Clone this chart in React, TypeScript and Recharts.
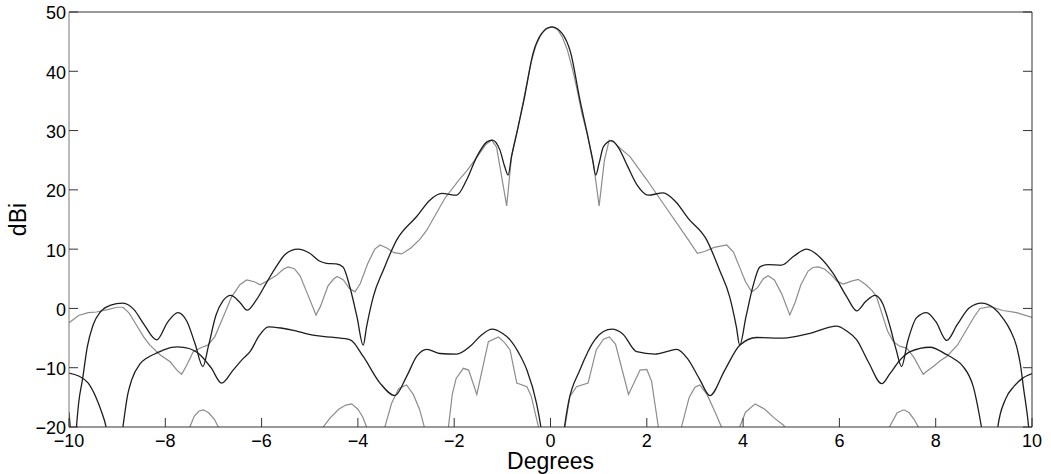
import { Line, LineChart, XAxis, YAxis } from "recharts"

// axis ticks
const xTicks = [-10, -8, -6, -4, -2, 0, 2, 4, 6, 8, 10]
const yTicks = [-20, -10, 0, 10, 20, 30, 40, 50]

// co-polar pattern, black  [degrees, dBi]
const copolBlack: [number, number][] = [
  [-10, -17.5], [-9.96, -22], [-9.91, -32], [-9.86, -22], [-9.8, -16], [-9.72, -12], [-9.62, -6.5],
  [-9.5, -2.8], [-9.35, -0.6], [-9.15, 0.5], [-8.88, 0.9], [-8.65, -0.2], [-8.45, -2.6], [-8.18, -5.3],
  [-7.95, -2.3], [-7.74, -0.7], [-7.55, -2.2], [-7.38, -6], [-7.22, -9.8], [-7.1, -6.2], [-6.95, -1.2],
  [-6.8, 1.3], [-6.64, 2.2], [-6.45, 1.0], [-6.3, -0.3], [-6.12, 1.3], [-5.9, 4.3], [-5.7, 7], [-5.5, 9.2],
  [-5.25, 10], [-5.0, 9.3], [-4.8, 8.0], [-4.65, 7.6], [-4.45, 7.5], [-4.31, 7.0], [-4.16, 3.4],
  [-4.02, -1.4], [-3.89, -6.2], [-3.82, -3.1], [-3.68, 2.0], [-3.47, 6.5], [-3.19, 11.6], [-2.78, 15.5],
  [-2.5, 18.3], [-2.26, 19.4], [-1.95, 19.1], [-1.74, 21.7], [-1.53, 25.6], [-1.32, 28.1], [-1.21, 28.4],
  [-1.05, 26.7], [-0.95, 23.9], [-0.88, 22.5], [-0.81, 25.6], [-0.7, 29.6], [-0.55, 35.2], [-0.36, 43.1],
  [-0.18, 46.4], [0.03, 47.5], [0.24, 46.4], [0.42, 43.1], [0.61, 35.2], [0.76, 29.6], [0.87, 25.3],
  [0.94, 22.5], [1.01, 24.5], [1.1, 27.3], [1.27, 28.3], [1.42, 27], [1.6, 24], [1.8, 20.8], [2.03, 19.1],
  [2.34, 19.5], [2.6, 18], [2.86, 15.2], [3.24, 11.6], [3.51, 6.5], [3.72, 2.0], [3.86, -3.1], [3.93, -6.2],
  [4.06, -1.4], [4.2, 3.6], [4.35, 7.0], [4.52, 7.4], [4.8, 7.3], [5.05, 8.8], [5.32, 10], [5.6, 8.6],
  [5.87, 5.9], [6.15, 2.0], [6.36, -0.4], [6.55, 1.2], [6.74, 2.2], [6.9, 0.8], [7.05, -3], [7.18, -7],
  [7.29, -9.8], [7.42, -5.5], [7.6, -1.6], [7.81, -0.7], [8.0, -2.2], [8.23, -5.4], [8.45, -2.7],
  [8.7, 0.1], [8.95, 0.9], [9.2, 0.1], [9.4, -1.7], [9.55, -3.7], [9.68, -6.4], [9.76, -9.5],
  [9.82, -13.2], [9.93, -20], [10, -27],
]

// cross-polar pattern, black
const xpolBlack: [number, number][] = [
  [-10, -10.9], [-9.8, -11.4], [-9.6, -12.6], [-9.45, -14.8], [-9.33, -17.3], [-9.23, -20], [-9.12, -26],
  [-9.0, -28], [-8.88, -20], [-8.78, -14.5], [-8.7, -12.1], [-8.53, -9.4], [-8.39, -8.4], [-8.2, -7.6],
  [-8.0, -6.9], [-7.76, -6.5], [-7.59, -6.6], [-7.28, -7.8], [-7.05, -10], [-6.83, -12.6], [-6.6, -10.5],
  [-6.4, -8.6], [-6.24, -7.3], [-6.05, -4.6], [-5.86, -3.1], [-5.6, -3.3], [-5.34, -3.7], [-5.1, -4.2],
  [-4.86, -4.6], [-4.5, -4.9], [-4.16, -5.3], [-3.89, -8.1], [-3.54, -12.6], [-3.23, -14.7], [-2.99, -11.5],
  [-2.78, -8.1], [-2.57, -6.9], [-2.3, -7.6], [-1.95, -7.7], [-1.67, -6.4], [-1.45, -4.6], [-1.21, -3.5],
  [-1.0, -4.2], [-0.84, -5.3], [-0.66, -7.5], [-0.49, -10.4], [-0.29, -16], [-0.2, -20], [0.05, -40],
  [0.29, -20], [0.37, -16], [0.61, -10.4], [0.92, -5.3], [1.1, -3.9], [1.28, -3.5], [1.5, -4.3],
  [1.79, -7.3], [2.17, -7.7], [2.45, -7.2], [2.62, -6.9], [2.85, -8.5], [3.1, -12], [3.31, -14.7],
  [3.62, -10.4], [3.93, -6.2], [4.28, -4.9], [4.83, -5.0], [5.39, -4.2], [5.94, -3.0], [6.15, -3.8],
  [6.36, -5.3], [6.6, -9], [6.88, -12.7], [7.05, -11], [7.26, -8.7], [7.47, -7.3], [7.88, -6.55],
  [8.23, -7.8], [8.4, -8.6], [8.57, -9.8], [8.78, -13.2], [8.95, -20], [9.1, -28], [9.2, -27],
  [9.29, -20], [9.45, -15.3], [9.62, -13.2], [9.8, -11.8], [10, -11],
]

// co-polar pattern, grey
const copolGrey: [number, number][] = [
  [-10, -2.4], [-9.8, -1.2], [-9.6, -0.7], [-9.43, -0.6], [-9.2, -0.2], [-9.0, 0.2], [-8.88, 0.2],
  [-8.75, -0.8], [-8.6, -2.8], [-8.45, -4.8], [-8.32, -6.2], [-8.11, -7.8], [-7.9, -9.0], [-7.75, -10.5],
  [-7.66, -11.1], [-7.55, -9.5], [-7.42, -7.3], [-7.25, -6.6], [-7.11, -6.15], [-6.97, -4.75], [-6.8, -1.5],
  [-6.62, 2.0], [-6.45, 4.0], [-6.31, 4.8], [-6.15, 4.5], [-6.03, 4.0], [-5.85, 4.8], [-5.69, 5.6],
  [-5.55, 6.6], [-5.45, 7.0], [-5.32, 6.7], [-5.2, 5.5], [-5.05, 2.5], [-4.87, -1.1], [-4.78, 0.3],
  [-4.62, 3.8], [-4.5, 5.0], [-4.43, 5.4], [-4.3, 4.8], [-4.18, 3.4], [-4.06, 2.8], [-3.95, 4.2],
  [-3.8, 7.5], [-3.65, 10], [-3.54, 10.7], [-3.4, 10.2], [-3.25, 9.4], [-3.09, 9.2], [-2.9, 10.2],
  [-2.71, 11.7], [-2.57, 13.2], [-2.2, 18.5], [-1.9, 21.7], [-1.73, 23.3], [-1.52, 25.6], [-1.35, 27.6],
  [-1.22, 28.4], [-1.12, 27.2], [-1.02, 22.5], [-0.91, 17.3], [-0.81, 25.6], [-0.7, 29.6], [-0.6, 33.5],
  [-0.5, 37.6], [-0.4, 41.6], [-0.3, 44.4], [-0.2, 46.2], [-0.1, 47.2], [0.03, 47.5], [0.15, 47.0],
  [0.25, 45.7], [0.35, 43.6], [0.45, 40.6], [0.55, 37], [0.65, 33], [0.77, 29.2], [0.9, 24], [1.01, 17.3],
  [1.12, 25], [1.22, 28.4], [1.32, 28.0], [1.45, 27], [1.65, 25.6], [2.0, 21.7], [2.34, 17.7], [2.86, 11.6],
  [3.05, 9.3], [3.2, 9.6], [3.4, 10.3], [3.66, 10.7], [3.8, 9.5], [3.95, 6.5], [4.05, 4.5], [4.18, 2.8],
  [4.3, 3.5], [4.42, 5.0], [4.52, 5.5], [4.65, 4.8], [4.8, 2.5], [4.97, -1.1], [5.08, 1.0], [5.2, 4.0],
  [5.35, 6.3], [5.45, 6.9], [5.56, 7.0], [5.7, 6.6], [5.85, 5.5], [5.95, 4.6], [6.08, 4.1], [6.25, 4.6],
  [6.39, 4.9], [6.55, 4.0], [6.68, 3.0], [6.77, 2.0], [6.9, -1.3], [7.0, -3.8], [7.12, -5.6], [7.26, -6.4],
  [7.4, -6.7], [7.55, -8.3], [7.74, -11.1], [7.85, -10.4], [7.95, -9.8], [8.1, -8.8], [8.23, -8.1],
  [8.45, -6.2], [8.64, -3.6], [8.8, -1.4], [8.92, 0.0], [9.13, 0.3], [9.4, -0.35], [9.68, -0.7], [10, -1.5],
]

// cross-polar pattern, grey (mostly below -20)
const xpolGrey: [number, number][] = [
  [-10, -30], [-7.6, -30], [-7.49, -20], [-7.4, -18.2], [-7.3, -17.3], [-7.21, -17.1], [-7.1, -17.6],
  [-6.98, -18.7], [-6.9, -20], [-6.8, -30], [-4.82, -30], [-4.72, -20], [-4.58, -18.5], [-4.4, -17],
  [-4.25, -16.3], [-4.13, -16.1], [-4.0, -17], [-3.9, -18.3], [-3.82, -20], [-3.72, -30], [-3.54, -30],
  [-3.44, -20], [-3.3, -16], [-3.15, -13.5], [-2.99, -12.9], [-2.85, -14.5], [-2.72, -17], [-2.62, -20],
  [-2.5, -30], [-2.2, -30], [-2.12, -20], [-2.04, -14.5], [-1.96, -11.8], [-1.81, -10.1], [-1.7, -10.4],
  [-1.53, -14.5], [-1.29, -5.6], [-1.08, -4.8], [-0.95, -5.8], [-0.84, -7.0], [-0.7, -12.6], [-0.49, -13.2],
  [-0.4, -14.8], [-0.25, -20], [-0.15, -30], [0.2, -30], [0.3, -20], [0.4, -14.9], [0.54, -13.2],
  [0.78, -12.6], [0.95, -7], [1.1, -5.2], [1.22, -4.8], [1.35, -6], [1.62, -14.5], [1.86, -10.4],
  [2.0, -10.3], [2.1, -12.3], [2.24, -20], [2.34, -30], [2.62, -30], [2.72, -20], [2.88, -15], [3.0, -13.3],
  [3.1, -12.9], [3.25, -14.5], [3.42, -17.5], [3.55, -20], [3.65, -30], [3.85, -30], [3.93, -20],
  [4.05, -17.5], [4.25, -16.1], [4.45, -17], [4.65, -18.5], [4.84, -19.7], [4.95, -21], [5.1, -30],
  [6.95, -30], [7.04, -20], [7.2, -17.6], [7.34, -17.1], [7.45, -17.6], [7.55, -18.7], [7.64, -20],
  [7.75, -30], [10, -30],
]

const toPoints = (pts: [number, number][]) => pts.map(([x, y]) => ({ x, y }))

const FONT = '"Liberation Sans", Arial, Helvetica, sans-serif'
const AXIS = "#333"
const TICK_LEN = 9
const BLACK = "#1e1e1e"
const GREY = "#8c8c8c"

const fmt = (v: number) => (v < 0 ? "\u2212" + Math.abs(v) : String(v))

const BottomTick = ({ x, y, payload }: any) => (
  <g>
    <line x1={x} y1={y} x2={x} y2={y - TICK_LEN} stroke={AXIS} />
    <text x={x} y={y + 7} dy="0.71em" textAnchor="middle" fontSize={18} fontFamily={FONT} fill="#000">
      {fmt(payload.value)}
    </text>
  </g>
)

const LeftTick = ({ x, y, payload }: any) => (
  <g>
    <line x1={x} y1={y} x2={x + TICK_LEN} y2={y} stroke={AXIS} />
    <text x={x - 3} y={y + 1} dy="0.355em" textAnchor="end" fontSize={18} fontFamily={FONT} fill="#000">
      {fmt(payload.value)}
    </text>
  </g>
)

const TopTick = ({ x, y }: any) => <line x1={x} y1={y} x2={x} y2={y + TICK_LEN} stroke={AXIS} />

const RightTick = ({ x, y }: any) => <line x1={x} y1={y} x2={x - TICK_LEN} y2={y} stroke={AXIS} />

export default function App() {
  return (
    <div style={{ position: "absolute", left: 0, top: 0, width: 1051, height: 474, background: "#fff" }}>
      <LineChart width={1051} height={474} margin={{ top: 8, right: 15, bottom: 7, left: 0 }}>
        <XAxis
          dataKey="x"
          type="number"
          domain={[-10, 10]}
          ticks={xTicks}
          interval={0}
          allowDataOverflow
          height={40}
          tickLine={false}
          tickSize={0}
          tickMargin={0}
          axisLine={{ stroke: AXIS }}
          tick={BottomTick}
          label={{
            value: "Degrees",
            position: "insideBottom",
            offset: -2,
            style: { fontSize: 23, fontFamily: FONT, fill: "#000" },
          }}
        />
        <XAxis
          xAxisId="top"
          orientation="top"
          type="number"
          domain={[-10, 10]}
          ticks={xTicks}
          interval={0}
          allowDataOverflow
          height={4}
          tickLine={false}
          tickSize={0}
          tickMargin={0}
          axisLine={{ stroke: AXIS }}
          tick={TopTick}
        />
        <YAxis
          type="number"
          domain={[-20, 50]}
          ticks={yTicks}
          interval={0}
          allowDataOverflow
          width={69}
          tickLine={false}
          tickSize={0}
          tickMargin={0}
          axisLine={{ stroke: "#777" }}
          tick={LeftTick}
          label={{
            value: "dBi",
            angle: -90,
            position: "insideLeft",
            offset: 18,
            style: { fontSize: 23, fontFamily: FONT, fill: "#000", textAnchor: "middle" },
          }}
        />
        <YAxis
          yAxisId="right"
          orientation="right"
          type="number"
          domain={[-20, 50]}
          ticks={yTicks}
          interval={0}
          allowDataOverflow
          width={4}
          tickLine={false}
          tickSize={0}
          tickMargin={0}
          axisLine={{ stroke: AXIS }}
          tick={RightTick}
        />
        <Line
          data={toPoints(xpolGrey)}
          dataKey="y"
          type="linear"
          stroke={GREY}
          strokeWidth={1.2}
          dot={false}
          activeDot={false}
          isAnimationActive={false}
        />
        <Line
          data={toPoints(copolGrey)}
          dataKey="y"
          type="linear"
          stroke={GREY}
          strokeWidth={1.2}
          dot={false}
          activeDot={false}
          isAnimationActive={false}
        />
        <Line
          data={toPoints(xpolBlack)}
          dataKey="y"
          type="monotone"
          stroke={BLACK}
          strokeWidth={1.3}
          dot={false}
          activeDot={false}
          isAnimationActive={false}
        />
        <Line
          data={toPoints(copolBlack)}
          dataKey="y"
          type="monotone"
          stroke={BLACK}
          strokeWidth={1.3}
          dot={false}
          activeDot={false}
          isAnimationActive={false}
        />
      </LineChart>
    </div>
  )
}
